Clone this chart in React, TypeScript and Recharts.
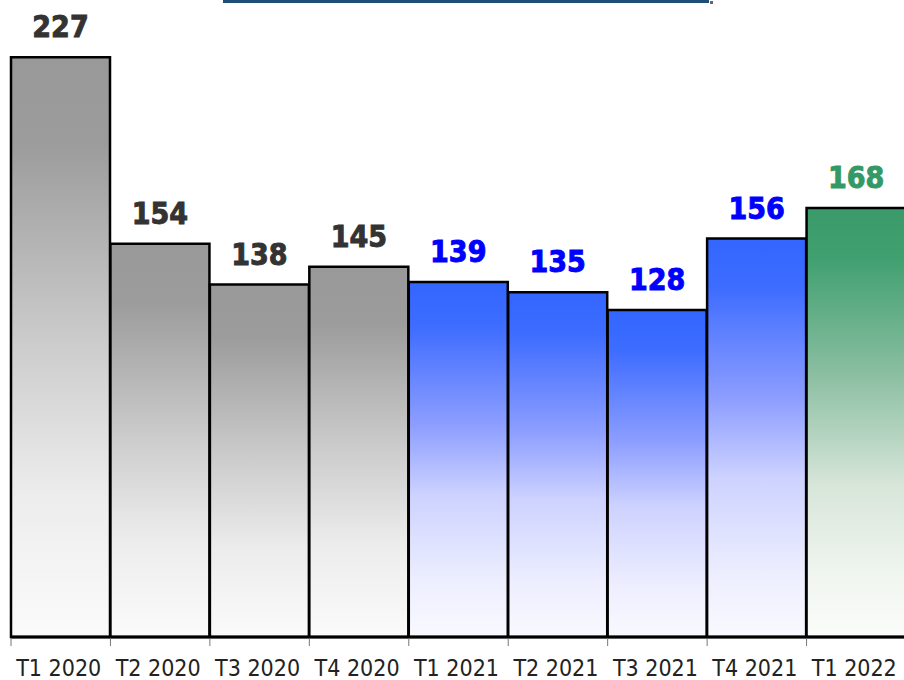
import React from "react";
import { BarChart, Bar, XAxis, YAxis, Cell, LabelList } from "recharts";

const quarters = ["T1 2020", "T2 2020", "T3 2020", "T4 2020", "T1 2021", "T2 2021", "T3 2021", "T4 2021", "T1 2022"];
const values = [227, 154, 138, 145, 139, 135, 128, 156, 168];
const groups = ["gray", "gray", "gray", "gray", "blue", "blue", "blue", "blue", "green"];

const data = quarters.map((q, i) => ({ q, v: values[i], g: groups[i] }));

const CHART_W = 910;
const MARGIN = { top: 24, right: 4, left: 11, bottom: 0 };
const BAND = (CHART_W - MARGIN.left - MARGIN.right) / quarters.length;

const fillFor: Record<string, string> = {
  gray: "url(#gGray)",
  blue: "url(#gBlue)",
  green: "url(#gGreen)",
};
const labelColor: Record<string, string> = {
  gray: "#333333",
  blue: "#0000ff",
  green: "#339966",
};

const FONT = '"DejaVu Sans Condensed", "DejaVu Sans", Tahoma, sans-serif';

const ValueLabel = (props: any) => {
  const { x, y, width, value, index } = props;
  const g = groups[index];
  return (
    <text
      x={x + width / 2}
      y={y - 20}
      textAnchor="middle"
      fontFamily={FONT}
      fontWeight="bold"
      fontSize={30}
      fill={labelColor[g]}
      stroke={labelColor[g]}
      strokeWidth={0.9}
    >
      {value}
    </text>
  );
};

const AxisTick = (props: any) => {
  const { x, y, payload, index } = props;
  const axisY = y - 22;
  const left = x - BAND / 2;
  const right = x + BAND / 2;
  return (
    <g>
      <line x1={left} x2={left} y1={axisY + 1} y2={axisY + 9} stroke="#777" strokeWidth={1} />
      {index === quarters.length - 1 && (
        <line x1={right} x2={right} y1={axisY + 1} y2={axisY + 9} stroke="#777" strokeWidth={1} />
      )}
      <text x={x - 2} y={y + 17} textAnchor="middle" fontFamily={FONT} fontSize={23} fill="#222">
        {payload.value}
      </text>
    </g>
  );
};

export default function App() {
  return (
    <div style={{ position: "absolute", left: 0, top: 0, width: 904, height: 680, overflow: "hidden", background: "#fff" }}>
      <div style={{ position: "absolute", left: 223, top: 0, width: 486, height: 3, background: "#1f4e79" }} />
      <div style={{ position: "absolute", left: 710, top: 1, width: 3, height: 3, background: "#666" }} />
      <BarChart
        width={CHART_W}
        height={680}
        data={data}
        margin={MARGIN}
        barCategoryGap={0}
        barGap={0}
      >
        <defs>
          <linearGradient id="gGray" x1="0" y1="0" x2="0" y2="1">
            <stop offset="0" stopColor="#999999" />
            <stop offset="0.15" stopColor="#9c9c9c" />
            <stop offset="0.5" stopColor="#cdcdcd" />
            <stop offset="0.75" stopColor="#ececec" />
            <stop offset="1" stopColor="#fbfbfb" />
          </linearGradient>
          <linearGradient id="gBlue" x1="0" y1="0" x2="0" y2="1">
            <stop offset="0" stopColor="#3366ff" />
            <stop offset="0.12" stopColor="#3d6cff" />
            <stop offset="0.4" stopColor="#8c9dff" />
            <stop offset="0.6" stopColor="#cdd2ff" />
            <stop offset="0.85" stopColor="#eeeffe" />
            <stop offset="1" stopColor="#f9f9ff" />
          </linearGradient>
          <linearGradient id="gGreen" x1="0" y1="0" x2="0" y2="1">
            <stop offset="0" stopColor="#3a9a6a" />
            <stop offset="0.12" stopColor="#41a070" />
            <stop offset="0.4" stopColor="#8ec0a4" />
            <stop offset="0.65" stopColor="#d8e6da" />
            <stop offset="0.85" stopColor="#eff5ef" />
            <stop offset="1" stopColor="#fbfcfb" />
          </linearGradient>
        </defs>
        <XAxis
          dataKey="q"
          height={43}
          interval={0}
          axisLine={{ stroke: "#000", strokeWidth: 3 }}
          tickLine={false}
          tickSize={9}
          tickMargin={13}
          tick={AxisTick}
        />
        <YAxis hide domain={[0, 240]} />
        <Bar dataKey="v" stroke="#000" strokeWidth={2.5} isAnimationActive={false}>
          {data.map((d, i) => (
            <Cell key={i} fill={fillFor[d.g]} />
          ))}
          <LabelList dataKey="v" content={ValueLabel} />
        </Bar>
      </BarChart>
    </div>
  );
}
